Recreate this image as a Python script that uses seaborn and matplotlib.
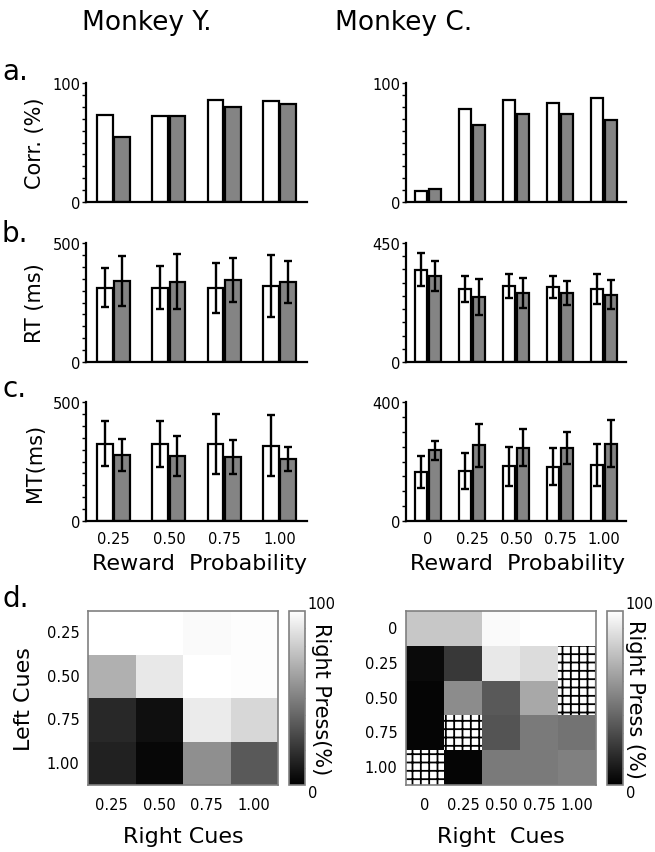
import numpy as np
import pandas as pd
import matplotlib
matplotlib.use("Agg")
import matplotlib.pyplot as plt
from matplotlib.ticker import MultipleLocator
from matplotlib.patches import Rectangle
import seaborn as sns

# ---------------- data ----------------
probs_Y = ["0.25", "0.50", "0.75", "1.00"]
probs_C = ["0", "0.25", "0.50", "0.75", "1.00"]
conds = ["open", "filled"]

corr_Y_open = [73, 72, 86, 85]
corr_Y_filled = [55, 72, 80, 82]
corr_C_open = [9, 78, 86, 83, 87]
corr_C_filled = [11, 65, 74, 74, 69]

rt_Y_open = [313, 313, 310, 320]
rt_Y_filled = [341, 338, 344, 338]
rt_Y_open_err = [80, 92, 106, 130]
rt_Y_filled_err = [105, 116, 92, 88]
rt_C_open = [349, 276, 287, 284, 276]
rt_C_filled = [325, 245, 261, 261, 255]
rt_C_open_err = [62, 50, 44, 42, 57]
rt_C_filled_err = [58, 68, 58, 46, 56]

mt_Y_open = [325, 324, 324, 317]
mt_Y_filled = [277, 272, 269, 261]
mt_Y_open_err = [96, 97, 125, 130]
mt_Y_filled_err = [69, 85, 70, 52]
mt_C_open = [164, 169, 184, 183, 188]
mt_C_filled = [237, 254, 247, 245, 260]
mt_C_open_err = [53, 60, 66, 63, 70]
mt_C_filled_err = [31, 73, 63, 55, 80]

cues_Y = ["0.25", "0.50", "0.75", "1.00"]
cues_C = ["0", "0.25", "0.50", "0.75", "1.00"]
press_Y = [[100, 100, 98, 99],
           [69, 91, 100, 99],
           [16, 6, 92, 84],
           [13, 3, 56, 35]]
nan = np.nan
press_C = [[78, 78, 98, 100, 100],
           [4, 22, 91, 86, nan],
           [2, 55, 35, 66, nan],
           [2, nan, 33, 48, 45],
           [nan, 2, 48, 48, 50]]

# ---------------- style ----------------
sns.set_style("ticks")
plt.rcParams["font.family"] = ["DejaVu Sans"]
plt.rcParams["hatch.linewidth"] = 1.3
for k in ["text.color", "axes.labelcolor", "xtick.color", "ytick.color", "axes.edgecolor"]:
    plt.rcParams[k] = "black"

W, H = 655, 853
fig = plt.figure(figsize=(W / 100, H / 100), dpi=100)


def box(x0, y0, x1, y1):
    return [x0 / W, 1 - y1 / H, (x1 - x0) / W, (y1 - y0) / H]


GRAY = "#848484"


def bars(ax, cats, vo, vf, eo=None, ef=None, top=100, minor=10, ylabel="", xlabels=False):
    n = len(cats)
    df = pd.DataFrame({"prob": cats * 2,
                       "cond": [conds[0]] * n + [conds[1]] * n,
                       "val": list(vo) + list(vf)})
    sns.barplot(data=df, x="prob", y="val", hue="cond", order=cats, hue_order=conds,
                palette={conds[0]: "white", conds[1]: GRAY}, edgecolor="black",
                linewidth=1.6, width=0.62, gap=0.08, errorbar=None, legend=False,
                saturation=1, ax=ax)
    if eo is not None:
        for cont, err in zip(ax.containers, [eo, ef]):
            xs = [b.get_x() + b.get_width() / 2 for b in cont]
            hs = [b.get_height() for b in cont]
            ax.errorbar(xs, hs, yerr=err, fmt="none", ecolor="black",
                        elinewidth=1.7, capsize=3, capthick=1.7, zorder=5)
    ax.set_xlim(-0.5, n - 0.5)
    ax.set_ylim(0, top)
    ax.set_yticks([0, top])
    ax.set_yticklabels(["0", str(top)])
    ax.yaxis.set_minor_locator(MultipleLocator(minor))
    sns.despine(ax=ax)
    for s in ["left", "bottom"]:
        ax.spines[s].set_linewidth(1.6)
        ax.spines[s].set_color("black")
    ax.tick_params(axis="y", which="both", direction="out", length=3, width=1,
                   labelsize=10.5, pad=1, color="black")
    ax.tick_params(axis="x", length=0, labelsize=10.5, pad=7)
    if not xlabels:
        ax.set_xticklabels([])
    ax.set_xlabel("")
    ax.set_ylabel(ylabel, fontsize=15)
    ax.yaxis.set_label_coords(-0.186, 0.5)


LX = (86, 307)
RX = (406, 626)
rows = [(84, 203), (244, 363), (403, 522)]

ax = fig.add_axes(box(LX[0], rows[0][0], LX[1], rows[0][1]))
bars(ax, probs_Y, corr_Y_open, corr_Y_filled, top=100, minor=10, ylabel="Corr. (%)")
ax = fig.add_axes(box(RX[0], rows[0][0], RX[1], rows[0][1]))
bars(ax, probs_C, corr_C_open, corr_C_filled, top=100, minor=10)

ax = fig.add_axes(box(LX[0], rows[1][0], LX[1], rows[1][1]))
bars(ax, probs_Y, rt_Y_open, rt_Y_filled, rt_Y_open_err, rt_Y_filled_err, top=500, minor=50,
     ylabel="RT (ms)")
ax = fig.add_axes(box(RX[0], rows[1][0], RX[1], rows[1][1]))
bars(ax, probs_C, rt_C_open, rt_C_filled, rt_C_open_err, rt_C_filled_err, top=450, minor=50)

ax = fig.add_axes(box(LX[0], rows[2][0], LX[1], rows[2][1]))
bars(ax, probs_Y, mt_Y_open, mt_Y_filled, mt_Y_open_err, mt_Y_filled_err, top=500, minor=50,
     ylabel="MT(ms)", xlabels=True)
ax = fig.add_axes(box(RX[0], rows[2][0], RX[1], rows[2][1]))
bars(ax, probs_C, mt_C_open, mt_C_filled, mt_C_open_err, mt_C_filled_err, top=400, minor=50,
     xlabels=True)


def heat(hbox, cbox, data, cues, xlabel, cblabel, cboff):
    axh = fig.add_axes(box(*hbox))
    cax = fig.add_axes(box(*cbox))
    df = pd.DataFrame(data, index=cues, columns=cues)
    sns.heatmap(df, cmap="gray", vmin=0, vmax=100, ax=axh, cbar_ax=cax,
                xticklabels=cues, yticklabels=cues)
    arr = np.array(data, dtype=float)
    for i, j in zip(*np.where(np.isnan(arr))):
        axh.add_patch(Rectangle((j, i), 1, 1, facecolor="white", edgecolor="black",
                                hatch="++", linewidth=0, zorder=3))
    for s in axh.spines.values():
        s.set_visible(True)
        s.set_edgecolor("#808080")
        s.set_linewidth(1.2)
        s.set_zorder(5)
    axh.tick_params(length=0, labelsize=10.5)
    axh.tick_params(axis="x", pad=9)
    axh.tick_params(axis="y", pad=6)
    plt.setp(axh.get_yticklabels(), rotation=0)
    plt.setp(axh.get_xticklabels(), rotation=0)
    axh.set_xlabel(xlabel, fontsize=16)
    axh.xaxis.set_label_coords(0.5, -0.235)
    cbar = axh.collections[0].colorbar
    cbar.set_ticks([0, 100])
    cbar.set_ticks(np.arange(0, 101, 10), minor=True)
    cbar.outline.set_edgecolor("#808080")
    cbar.outline.set_linewidth(1.2)
    cax.tick_params(which="major", length=0, labelsize=10.5, pad=2)
    cax.tick_params(which="minor", direction="in", length=3, width=0.8, color="#888888")
    labs = cax.get_yticklabels()
    labs[0].set_va("top")
    labs[1].set_va("bottom")
    cax.annotate(cblabel, xy=(1, 0.5), xycoords="axes fraction", xytext=(cboff, 0),
                 textcoords="offset pixels", rotation=270, ha="center", va="center",
                 fontsize=15)
    return axh


axh = heat((88, 612, 278, 786), (289, 612, 305, 786), press_Y, cues_Y, "Right Cues",
           "Right Press(%)", 16)
axh.set_ylabel("Left Cues", fontsize=16)
axh.yaxis.set_label_coords(-0.284, 0.5)
heat((406, 612, 596, 786), (607, 612, 623, 786), press_C, cues_C, "Right  Cues",
     "Right Press (%)", 12)

# ---------------- texts ----------------
fig.text(147 / W, 1 - 30 / H, "Monkey Y.", ha="center", va="baseline", fontsize=19)
fig.text(404 / W, 1 - 30 / H, "Monkey C.", ha="center", va="baseline", fontsize=19)
for lab, yb in [("a.", 80), ("b.", 242), ("c.", 397), ("d.", 607)]:
    fig.text(2 / W, 1 - yb / H, lab, ha="left", va="baseline", fontsize=20)
fig.text(199 / W, 1 - 570 / H, "Reward  Probability", ha="center", va="baseline", fontsize=16)
fig.text(518 / W, 1 - 570 / H, "Reward  Probability", ha="center", va="baseline", fontsize=16)

fig.savefig("out.png", dpi=100)
